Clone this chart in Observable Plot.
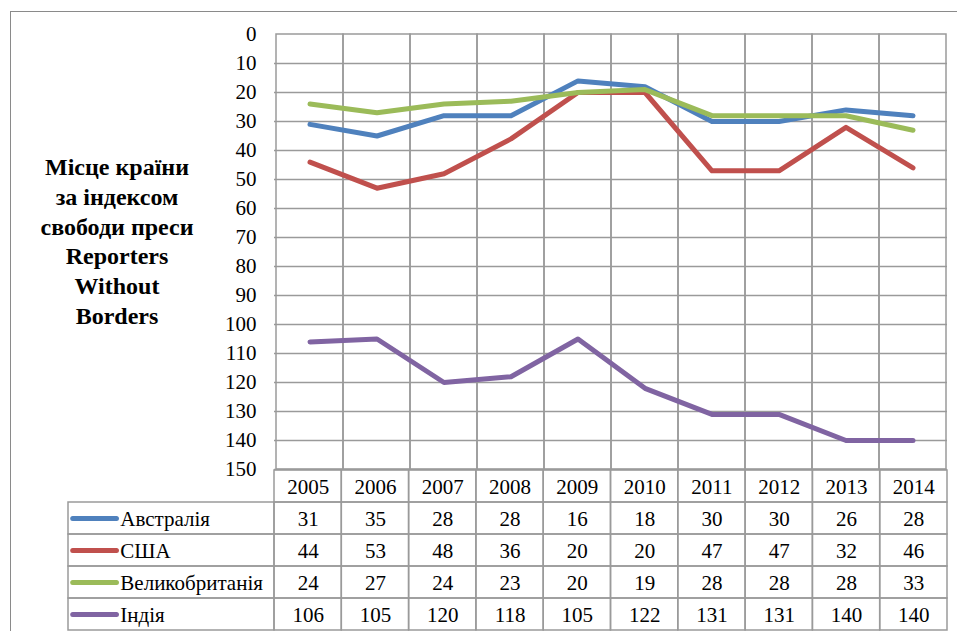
<!DOCTYPE html>
<html><head><meta charset="utf-8">
<script src="https://cdn.jsdelivr.net/npm/d3@7"></script>
<script src="https://cdn.jsdelivr.net/npm/@observablehq/plot@0.6"></script>
<style>
body{margin:0;background:#fff;}
#wrap{position:relative;width:957px;height:631px;overflow:hidden;font-family:"Liberation Serif","DejaVu Serif","Liberation Sans",serif;}
#border{position:absolute;left:10px;top:11px;width:980px;height:700px;border:1px solid #8a8a8a;box-sizing:border-box;}
#title{position:absolute;left:17px;top:153px;width:200px;text-align:center;font-weight:bold;font-size:24px;line-height:29.8px;color:#000;font-family:"Liberation Serif","DejaVu Serif","Liberation Sans",serif;}
#chart{position:absolute;left:0;top:0;}
#table{position:absolute;left:0;top:469px;}
</style></head>
<body>
<div id="wrap">
<div id="border"></div>
<div id="chart"></div>
<div id="table"></div>
<div id="title">Місце країни<br>за індексом<br>свободи преси<br>Reporters<br>Without<br>Borders</div>
</div>
<script>
const years = ["2005","2006","2007","2008","2009","2010","2011","2012","2013","2014"];
const countries = ["Австралія","США","Великобританія","Індія"];
const colors = ["#4F81BD","#C0504D","#9BBB59","#8064A2"];
const australia = [31,35,28,28,16,18,30,30,26,28];
const usa = [44,53,48,36,20,20,47,47,32,46];
const uk = [24,27,24,23,20,19,28,28,28,33];
const india = [106,105,120,118,105,122,131,131,140,140];
const yTicks = [0,10,20,30,40,50,60,70,80,90,100,110,120,130,140,150];

const seriesValues = [australia, usa, uk, india];
const rows = [];
countries.forEach((c, k) => years.forEach((y, i) => rows.push({country: c, year: y, i, value: seriesValues[k][i]})));

const grid = "#9a9a9a";
const font = "'Liberation Serif', 'DejaVu Serif', 'Liberation Sans', serif";

const chart = Plot.plot({
  width: 957, height: 471,
  marginLeft: 274, marginRight: 10, marginTop: 34, marginBottom: 2,
  style: {fontFamily: font, fontSize: "21px", color: "#000", background: "transparent", overflow: "visible"},
  x: {type: "band", domain: years, padding: 0, axis: null},
  y: {domain: [0, 150], reverse: true, ticks: yTicks, label: null},
  marks: [
    Plot.ruleY(yTicks.filter(t => t > 0), {stroke: grid, strokeWidth: 1.5}),
    Plot.cell(years, {x: d => d, fill: "none", stroke: grid, strokeWidth: 1.5}),
    Plot.axisY({ticks: yTicks, tickSize: 0, tickPadding: 18, fontSize: 21, fontFamily: font, label: null}),
    ...countries.map((c, k) => Plot.line(rows.filter(r => r.country === c), {
      x: "year", y: "value", stroke: colors[k], strokeWidth: 5,
      strokeLinecap: "round", strokeLinejoin: "round"
    }))
  ]
});
document.getElementById("chart").appendChild(chart);

// data table below the chart
const labelSpan = 206 / 67.3;
const rowNames = ["hdr", ...countries];
const tableCells = [];
rowNames.forEach((r, k) => years.forEach((y, i) => tableCells.push({
  row: r, i, text: k === 0 ? y : String(seriesValues[k - 1][i])
})));
const labelCells = countries.map((c, k) => ({row: c, color: colors[k]}));

const table = Plot.plot({
  width: 957, height: 162,
  marginLeft: 68, marginRight: 10, marginTop: 0, marginBottom: 1,
  style: {fontFamily: font, fontSize: "21px", color: "#000", background: "transparent", overflow: "visible"},
  x: {domain: [-labelSpan, 10], axis: null},
  y: {type: "band", domain: rowNames, padding: 0, axis: null},
  marks: [
    Plot.barX(tableCells, {x1: d => d.i, x2: d => d.i + 1, y: "row", fill: "none", stroke: grid, strokeWidth: 1.5}),
    Plot.barX(labelCells, {x1: -labelSpan, x2: 0, y: "row", fill: "none", stroke: grid, strokeWidth: 1.5}),
    Plot.text(tableCells, {x: d => d.i + 0.5, y: "row", text: "text", fontSize: 21, fontFamily: font, fill: "#000", dy: 1}),
    Plot.ruleY(labelCells, {y: "row", x1: -labelSpan + 0.07, x2: -labelSpan + 0.72, stroke: "color", strokeWidth: 5, strokeLinecap: "round"}),
    Plot.text(labelCells, {x: -labelSpan + 0.77, y: "row", text: "row", textAnchor: "start", fontSize: 21, fontFamily: font, fill: "#000", dy: 1})
  ]
});
document.getElementById("table").appendChild(table);
</script>
</body></html>
